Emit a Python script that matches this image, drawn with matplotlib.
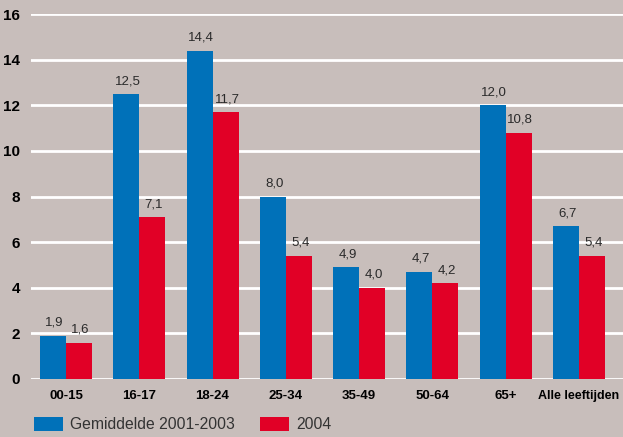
import matplotlib.pyplot as plt
import numpy as np
from matplotlib.patches import Patch

# data
categories = ['00-15', '16-17', '18-24', '25-34', '35-49', '50-64', '65+', 'Alle leeftijden']
gem_2001_2003 = [1.9, 12.5, 14.4, 8.0, 4.9, 4.7, 12.0, 6.7]
val_2004 = [1.6, 7.1, 11.7, 5.4, 4.0, 4.2, 10.8, 5.4]
yticks = [0, 2, 4, 6, 8, 10, 12, 14, 16]

bg = '#c8bebb'
blue = '#0071b9'
red = '#e10026'

plt.rcParams['font.family'] = ['Liberation Sans', 'DejaVu Sans']

fig = plt.figure(figsize=(6.23, 4.37), dpi=100, facecolor=bg)
ax = fig.add_axes([31 / 623, 58 / 437, 1 - 31 / 623, 365 / 437])
ax.set_facecolor(bg)

x = np.arange(len(categories))
w = 0.355
b1 = ax.bar(x - w / 2, gem_2001_2003, w, color=blue, zorder=3)
b2 = ax.bar(x + w / 2, val_2004, w, color=red, zorder=3)

for bars, vals in ((b1, gem_2001_2003), (b2, val_2004)):
    for r, v in zip(bars, vals):
        ax.text(r.get_x() + r.get_width() / 2 + 0.02, v + 0.3, f'{v:.1f}'.replace('.', ','),
                ha='center', va='bottom', fontsize=9.5, color='#2a2a2a')

ax.set_ylim(0, 16)
ax.set_xlim(-0.477, 7.6)
ax.set_yticks(yticks)
ax.set_yticklabels([str(t) for t in yticks], fontsize=11, fontweight='bold')
ax.set_xticks(x)
ax.set_xticklabels(categories, fontsize=9.5, fontweight='bold')
ax.get_xticklabels()[-1].set_fontsize(9)
ax.tick_params(length=0)
ax.tick_params(axis='y', pad=8)
ax.tick_params(axis='x', pad=8)
for t in yticks:
    ax.axhline(t, color='white', lw=2, zorder=1)
for s in ax.spines.values():
    s.set_visible(False)

handles = [Patch(facecolor=blue, label='Gemiddelde 2001-2003'),
           Patch(facecolor=red, label='2004')]
fig.legend(handles=handles, loc='lower left', bbox_to_anchor=(20 / 623, -0.022),
           ncol=2, frameon=False, fontsize=11.3, handlelength=1.85, handleheight=1.05,
           columnspacing=1.6, handletextpad=0.45, labelcolor='#333333')

fig.savefig('out.png', dpi=100, facecolor=bg)
